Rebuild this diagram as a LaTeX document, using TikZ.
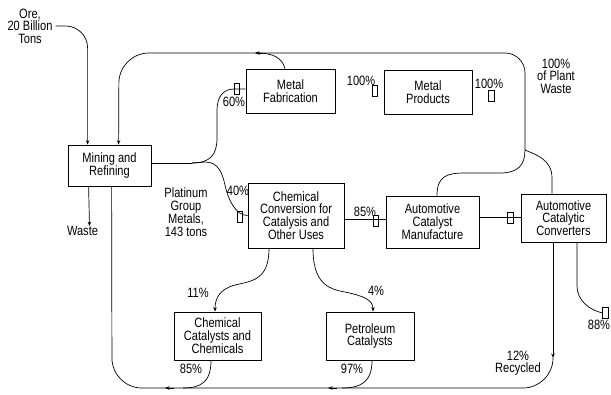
\documentclass[tikz,border=0pt]{standalone}
\usepackage{fontspec}
\setmainfont{Liberation Sans}[FakeStretch=0.82]
\usetikzlibrary{arrows.meta}
\begin{document}
\begin{tikzpicture}[x=1pt,y=-1pt, font=\fontsize{13.5}{12.5}\selectfont,
 box/.style={draw, line width=0.8pt, align=center, inner sep=1pt},
 lbl/.style={align=center, inner sep=0pt},
 tofu/.style={draw, line width=0.6pt, inner sep=0pt, minimum width=5.5pt, minimum height=11pt},
 ln/.style={line width=0.7pt},
 arr/.style={ln, -{Stealth[length=4.5pt,width=3.5pt]}}]
\useasboundingbox (0,0) rectangle (611,394);

% boxes
\node[box, minimum width=83pt, minimum height=41pt] (mining) at (109.5,165.5) {Mining and\\Refining};
\node[box, minimum width=89pt, minimum height=44pt] (fab) at (290.5,91) {Metal\\Fabrication};
\node[box, minimum width=88pt, minimum height=44pt] (prod) at (428,92) {Metal\\Products};
\node[box, minimum width=96pt, minimum height=65pt] (conv) at (296,215.5) {Chemical\\Conversion for\\Catalysis and\\Other Uses};
\node[box, minimum width=93pt, minimum height=52pt] (manu) at (432.5,222) {Automotive\\Catalyst\\Manufacture};
\node[box, minimum width=85pt, minimum height=48pt] (convtr) at (563.5,218) {Automotive\\Catalytic\\Converters};
\node[box, minimum width=87pt, minimum height=48pt] (chem) at (217.5,336) {Chemical\\Catalysts and\\Chemicals};
\node[box, minimum width=88pt, minimum height=48pt] (petro) at (370,336) {Petroleum\\Catalysts};

% labels
\node[lbl] (ore) at (30,26) {Ore,\\20 Billion\\Tons};
\node[lbl] (pgm) at (186,212) {Platinum\\Group\\Metals,\\143 tons};
\node[lbl] (waste) at (82.5,231) {Waste};
\node[lbl] (p60) at (234,102) {60\%};
\node[lbl] (p40) at (238,191) {40\%};
\node[lbl] (p100a) at (361,81) {100\%};
\node[lbl] (p100b) at (489,84) {100\%};
\node[lbl] (plant) at (556,76) {100\%\\of Plant\\Waste};
\node[lbl] (p85a) at (365,212) {85\%};
\node[lbl] (p11) at (198,293) {11\%};
\node[lbl] (p4) at (376,291) {4\%};
\node[lbl] (p85b) at (191,369) {85\%};
\node[lbl] (p97) at (352,369) {97\%};
\node[lbl] (rec) at (518,363) {12\%\\Recycled};
\node[lbl] (p88) at (599,325) {88\%};

% tofu boxes
\node[tofu] (t1) at (237,89) {};
\node[tofu] (t2) at (240,217) {};
\node[tofu] (t3) at (375,91) {};
\node[tofu] (t4) at (491.5,96) {};
\node[tofu] (t5) at (376,220.5) {};
\node[tofu] (t6) at (510.5,217.5) {};
\node[tofu] (t7) at (605.5,313) {};

% coordinates
\coordinate (wj) at (525,150);
\coordinate (split) at (192,163);
\coordinate (rj) at (553,358);
\coordinate (tm) at (320,53);

% ore -> mining
\draw[arr, rounded corners=22pt] ([xshift=3pt]ore.east) -| ([xshift=20pt]mining.north west);

% plant waste loop
\draw[ln] ([xshift=4.5pt]manu.north) .. controls (437,176) and (447,173) .. (465,173) -- (500,173)
  .. controls (518,173) and (525,165) .. (wj);
\draw[ln] ([xshift=-11.5pt]convtr.north) -- (552,178) .. controls (552,160) and (537,155) .. (wj);
\draw[ln, rounded corners=20pt] (wj) -- (525,53) -- (tm);
\draw[arr, rounded corners=30pt] (tm) -- (119,53) -- ([xshift=51pt]mining.north west);
\draw[ln] ([xshift=-5.5pt]fab.north) .. controls (282,58) and (274,53) .. (256,53);
\draw[arr] (263,53) -- (255,53);

% mining -> fabrication / conversion
\draw[ln] ([yshift=2.5pt]mining.east) -- (split);
\draw[ln] (split) .. controls (210,163) and (217,155) .. (217,138) -- (217,110)
  .. controls (217,96) and (224,89) .. (234,89) -- ([yshift=2pt]fab.west);
\draw[ln] (split) -- (205,162) .. controls (218,162) and (222,172) .. (225,185)
  .. controls (228,200) and (236,215.5) .. (conv.west);

% waste
\draw[arr] ([xshift=21pt]mining.south west) -- ([xshift=7pt]waste.north);

% conversion -> manufacture -> converters
\draw[ln] ([yshift=-3.5pt]conv.east) -- ([yshift=-3.5pt]conv.east -| manu.west);
\draw[ln] ([yshift=5pt]manu.east) -- ([yshift=5pt]manu.east -| convtr.west);

% conversion -> chemical / petroleum
\draw[arr] ([xshift=-27pt]conv.south) .. controls (269,280) and (252,281) .. (235,285)
  .. controls (220,289) and (215,298) .. ([xshift=-2.5pt]chem.north);
\draw[arr] ([xshift=17pt]conv.south) .. controls (313,282) and (327,289) .. (345,292)
  .. controls (364,296) and (373,300) .. ([xshift=3pt]petro.north);

% converters -> 88%
\draw[ln] ([xshift=13.5pt]convtr.south) -- (577,286) .. controls (577,301) and (590,310) .. (t7.west);

% recycling loop
\draw[arr] ([xshift=-10.5pt]convtr.south) -- (rj);
\draw[ln, rounded corners=30pt] (rj) -- (553,388) -- (112,388) -- ([xshift=44pt]mining.south west);
\draw[ln] ([xshift=-6.5pt]chem.south) .. controls (211,382) and (201,388) .. (183,388);
\draw[ln] ([xshift=2pt]petro.south) .. controls (372,382) and (361,388) .. (342,388);
\draw[arr] (174,388) -- (165,388);
\draw[arr] (337,388) -- (328,388);
\end{tikzpicture}
\end{document}
